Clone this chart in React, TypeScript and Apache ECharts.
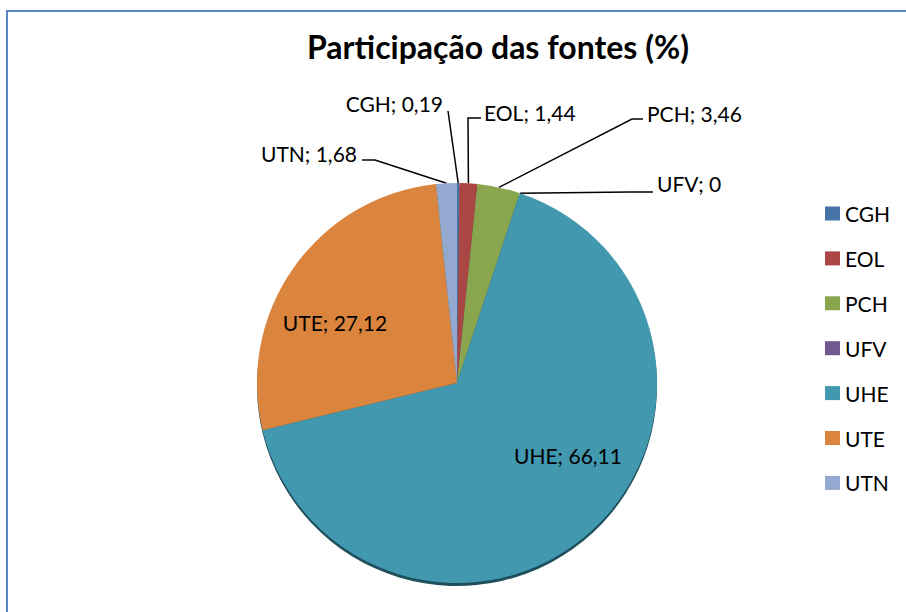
import React, { useEffect, useRef } from 'react';
import * as echarts from 'echarts';

const categories = ['CGH', 'EOL', 'PCH', 'UFV', 'UHE', 'UTE', 'UTN'];
const values = [0.19, 1.44, 3.46, 0, 66.11, 27.12, 1.68];
const colors = ['#4572A7', '#AA4643', '#89A54E', '#71588F', '#4198AF', '#DB843D', '#93A9CF'];
const titleText = 'Participação das fontes (%)';

// label placement (layout only)
const labelPlacement: Record<string, any> = {
  CGH: { x: 443, y: 103, align: 'right', line: [[448, 111], [448, 111]] },
  EOL: { x: 484, y: 112, align: 'left', line: [[468, 118], [481, 118]] },
  PCH: { x: 647, y: 113, align: 'left', line: [[632, 119], [643, 119]] },
  UFV: { x: 657, y: 183, align: 'left', line: [[630, 192], [653, 192]] },
  UTN: { x: 357, y: 153, align: 'right', line: [[375, 160], [362, 160]] },
  UTE: { x: 335, y: 322, align: 'center' },
  UHE: { x: 568, y: 455, align: 'center' },
};

const FONT = 'Lato, "Open Sans", sans-serif';
const CENTER = [457, 383];
const RADIUS = 200;

export default function App() {
  const ref = useRef<HTMLDivElement>(null);
  useEffect(() => {
    if (!ref.current) return;
    const chart = echarts.init(ref.current, undefined, { renderer: 'svg' });
    const fmt = (v: number) => String(v).replace('.', ',');
    const mainData = categories.map((name, i) => {
      const inside = !labelPlacement[name].line;
      return {
        name,
        value: values[i],
        itemStyle: { color: colors[i] },
        label: { position: inside ? 'inside' : 'outside' },
        labelLine: { show: !inside },
      };
    });
    const shadowData = categories.map((name, i) => ({
      name,
      value: values[i],
      itemStyle: { color: '#1F4E5C' },
    }));
    chart.setOption({
      animation: false,
      backgroundColor: '#ffffff',
      title: {
        text: titleText,
        left: 493,
        top: 25,
        textAlign: 'center',
        textStyle: { fontFamily: FONT, fontWeight: 'bold', fontSize: 32, color: '#000' },
      },
      legend: {
        orient: 'vertical',
        left: 825,
        top: 203,
        padding: 0,
        itemWidth: 15,
        itemHeight: 14,
        itemGap: 23.9,
        icon: 'rect',
        selectedMode: false,
        data: categories,
        textStyle: { fontFamily: FONT, fontSize: 21, color: '#000', lineHeight: 14 },
      },
      graphic: [
        {
          type: 'rect',
          shape: { x: 7, y: 11, width: 1000, height: 1000 },
          style: { fill: 'none', stroke: '#5A86C4', lineWidth: 2 },
          silent: true,
        },
      ],
      series: [
        {
          type: 'pie',
          z: 3,
          center: CENTER,
          radius: RADIUS,
          startAngle: 90,
          clockwise: true,
          avoidLabelOverlap: false,
          emphasis: { disabled: true },
          itemStyle: { borderWidth: 0 },
          label: {
            show: true,
            color: '#000',
            fontFamily: FONT,
            fontSize: 21,
            formatter: (p: any) => `${p.name}; ${fmt(p.value)}`,
          },
          labelLine: {
            show: true,
            length: 20,
            length2: 10,
            lineStyle: { color: '#000', width: 1.5 },
          },
          labelLayout: (params: any) => {
            const name = categories[params.dataIndex];
            const p = labelPlacement[name];
            const res: any = { x: p.x, y: p.y, align: p.align, verticalAlign: 'middle' };
            if (p.line) {
              let start = params.labelLinePoints && params.labelLinePoints[0];
              if (!start) {
                let acc = 0;
                for (let k = 0; k < params.dataIndex; k++) acc += values[k];
                const total = values.reduce((a, b) => a + b, 0);
                const mid = ((acc + values[params.dataIndex] / 2) / total) * Math.PI * 2;
                start = [CENTER[0] + RADIUS * Math.sin(mid), CENTER[1] - RADIUS * Math.cos(mid)];
              }
              res.labelLinePoints = [start, ...p.line];
            }
            return res;
          },
          data: mainData,
        },
        {
          type: 'pie',
          z: 1,
          silent: true,
          center: [CENTER[0], CENTER[1] + 3],
          radius: RADIUS,
          startAngle: 90,
          label: { show: false },
          labelLine: { show: false },
          emphasis: { disabled: true },
          data: shadowData,
        },
      ],
    });
    return () => chart.dispose();
  }, []);
  return (
    <div
      ref={ref}
      style={{ position: 'fixed', left: 0, top: 0, width: 906, height: 612 }}
    />
  );
}
